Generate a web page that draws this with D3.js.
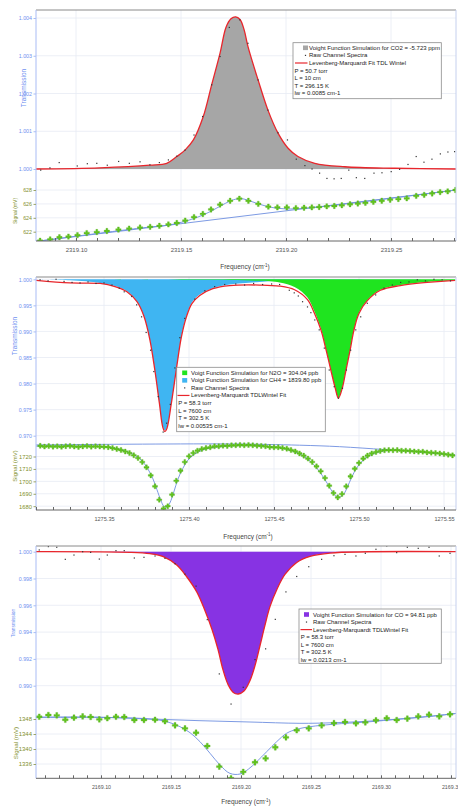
<!DOCTYPE html>
<html><head><meta charset="utf-8">
<script src="https://cdn.jsdelivr.net/npm/d3@7"></script>
<style>body{margin:0;background:#fff}svg{display:block;font-family:"Liberation Sans",Arial,sans-serif}</style>
</head><body>
<script>
// ---------------- DATA ----------------
// Panel 1 : CO2
const p1XTicks = [2319.10, 2319.15, 2319.20, 2319.25];
const p1TTicks = [1.000, 1.001, 1.002, 1.003, 1.004];
const p1STicks = [622, 624, 626, 628];
const p1SimFreq = [2319.0810,2319.1114,2319.1352,2319.1432,2319.1480,2319.1519,2319.1559,2319.1606,2319.1646,2319.1686,2319.1714,2319.1738,2319.1760,2319.1781,2319.1800,2319.1819,2319.1867,2319.1914,2319.1962,2319.2010,2319.2057,2319.2137,2319.2280,2319.2518,2319.2810];
const p1SimT = [1.00000,1.00003,1.00010,1.00015,1.00033,1.00050,1.00077,1.00139,1.00223,1.00307,1.00375,1.00398,1.00403,1.00396,1.00370,1.00324,1.00236,1.00156,1.00095,1.00055,1.00033,1.00015,1.00006,1.00002,1.00000];
const p1RawFreq = [2319.0832,2319.0876,2319.0920,2319.1006,2319.1054,2319.1099,2319.1149,2319.1203,2319.1254,2319.1305,2319.1352,2319.1397,2319.1440,2319.1480,2319.1519,2319.1562,2319.1603,2319.1646,2319.1686,2319.1730,2319.1780,2319.1819,2319.1867,2319.1914,2319.1962,2319.2007,2319.2049,2319.2090,2319.2124,2319.2160,2319.2195,2319.2229,2319.2263,2319.2299,2319.2335,2319.2375,2319.2419,2319.2457,2319.2501,2319.2541,2319.2581,2319.2620,2319.2657,2319.2695,2319.2735,2319.2771,2319.2803];
const p1RawT = [0.99997,1.00003,1.00017,1.00008,1.00014,1.00015,1.00010,1.00020,1.00015,1.00019,1.00011,1.00017,1.00024,1.00034,1.00050,1.00090,1.00139,1.00223,1.00298,1.00375,1.00395,1.00333,1.00236,1.00156,1.00096,1.00077,1.00026,1.00009,1.00000,0.99989,0.99975,0.99974,0.99975,0.99997,0.99977,0.99975,0.99989,0.99990,0.99993,0.99999,1.00012,1.00033,1.00018,1.00026,1.00040,1.00045,1.00046];
const p1SigFreq = [2319.0829,2319.0877,2319.0921,2319.0964,2319.1007,2319.1051,2319.1099,2319.1147,2319.1202,2319.1253,2319.1305,2319.1353,2319.1397,2319.1440,2319.1480,2319.1520,2319.1562,2319.1604,2319.1643,2319.1686,2319.1734,2319.1778,2319.1821,2319.1868,2319.1916,2319.1959,2319.2004,2319.2047,2319.2086,2319.2123,2319.2158,2319.2194,2319.2230,2319.2266,2319.2305,2319.2342,2319.2378,2319.2416,2319.2456,2319.2496,2319.2535,2319.2575,2319.2620,2319.2658,2319.2696,2319.2734,2319.2770,2319.2807];
const p1SigV = [620.7,620.9,621.2,621.3,621.5,621.8,621.95,622.1,622.3,622.45,622.6,622.7,622.85,623.05,623.25,623.6,624.1,624.55,625.2,625.9,626.45,626.75,626.45,626.0,625.6,625.5,625.5,625.4,625.45,625.5,625.55,625.65,625.7,625.8,625.95,626.05,626.15,626.3,626.45,626.6,626.7,626.8,627.15,627.3,627.5,627.7,627.8,628.0];
const p1SigFitFreq = [2319.0810,2319.1300,2319.1450,2319.1520,2319.1580,2319.1640,2319.1700,2319.1750,2319.1790,2319.1830,2319.1880,2319.1930,2319.1990,2319.2060,2319.2200,2319.2500,2319.2810];
const p1SigFitV = [620.6,622.5,623.0,623.5,624.1,624.9,625.9,626.6,626.75,626.4,625.9,625.5,625.3,625.3,625.7,626.8,628.0];
const p1BaseFreq = [2319.0810, 2319.2810];
const p1BaseV = [620.6, 628.0];
const p1Legend = ["Voight Function Simulation for CO2 = -5.723 ppm","Raw Channel Spectra","Levenberg-Marquardt Fit TDL Wintel","P = 50.7 torr","L = 10 cm","T = 296.15 K","lw = 0.0085 cm-1"];

// Panel 2 : N2O / CH4
const p2XTicks = [1275.35, 1275.40, 1275.45, 1275.50, 1275.55];
const p2TTicks = [1.000, 0.995, 0.990, 0.985, 0.980, 0.975, 0.970];
const p2STicks = [1680, 1690, 1700, 1710, 1720];
const p2Ch4Freq = [1275.3101,1275.3300,1275.3477,1275.3565,1275.3635,1275.3694,1275.3735,1275.3770,1275.3799,1275.3826,1275.3846,1275.3858,1275.3870,1275.3896,1275.3925,1275.3955,1275.3984,1275.4016,1275.4063,1275.4140,1275.4239,1275.4415,1275.4650,1275.4885,1275.5566];
const p2Ch4T = [1.0000,0.9998,0.9993,0.9987,0.9977,0.9958,0.9930,0.9884,0.9826,0.9762,0.9718,0.9710,0.9716,0.9762,0.9826,0.9890,0.9928,0.9955,0.9971,0.9983,0.9990,0.9995,0.9998,0.9999,1.0000];
const p2N2oFreq = [1275.3101,1275.4063,1275.4415,1275.4533,1275.4621,1275.4697,1275.4738,1275.4777,1275.4806,1275.4835,1275.4859,1275.4879,1275.4903,1275.4923,1275.4947,1275.4970,1275.4999,1275.5049,1275.5126,1275.5243,1275.5401,1275.5566];
const p2N2oT = [1.0000,0.9999,0.9997,0.9994,0.9985,0.9965,0.9938,0.9904,0.9866,0.9826,0.9794,0.9773,0.9794,0.9826,0.9864,0.9903,0.9935,0.9960,0.9980,0.9989,0.9995,0.9998];
const p2FitFreq = [1275.3101,1275.3300,1275.3477,1275.3565,1275.3635,1275.3694,1275.3735,1275.3770,1275.3799,1275.3826,1275.3846,1275.3858,1275.3870,1275.3896,1275.3925,1275.3955,1275.3984,1275.4016,1275.4063,1275.4140,1275.4239,1275.4415,1275.4533,1275.4621,1275.4697,1275.4738,1275.4777,1275.4806,1275.4835,1275.4859,1275.4879,1275.4903,1275.4923,1275.4947,1275.4970,1275.4999,1275.5049,1275.5126,1275.5243,1275.5401,1275.5566];
const p2FitT = [0.9998,0.9993,0.9992,0.9986,0.9976,0.9957,0.9929,0.9884,0.9826,0.9762,0.9716,0.9708,0.9714,0.9762,0.9826,0.9889,0.9927,0.9953,0.9969,0.9982,0.9988,0.9989,0.9987,0.9980,0.9961,0.9935,0.9902,0.9865,0.9825,0.9793,0.9772,0.9793,0.9825,0.9863,0.9902,0.9934,0.9959,0.9979,0.9988,0.9994,0.9998];
const p2RawFreq = [1275.3124,1275.3171,1275.3218,1275.3265,1275.3312,1275.3359,1275.3406,1275.3453,1275.3500,1275.3547,1275.3590,1275.3619,1275.3663,1275.3692,1275.3721,1275.3748,1275.3774,1275.3793,1275.3819,1275.3848,1275.3868,1275.3890,1275.3917,1275.3946,1275.3975,1275.4034,1275.4093,1275.4151,1275.4210,1275.4275,1275.4327,1275.4380,1275.4433,1275.4486,1275.4533,1275.4590,1275.4619,1275.4643,1275.4668,1275.4697,1275.4717,1275.4740,1275.4766,1275.4796,1275.4825,1275.4854,1275.4879,1275.4903,1275.4926,1275.4951,1275.4981,1275.5010,1275.5049,1275.5098,1275.5147,1275.5196,1275.5245,1275.5294,1275.5343,1275.5391,1275.5441,1275.5489,1275.5538];
const p2RawT = [0.9999,0.9997,1.0000,0.9996,0.9994,0.9993,0.9995,0.9992,0.9993,0.9989,0.9983,0.9976,0.9967,0.9951,0.9928,0.9898,0.9864,0.9823,0.9775,0.9707,0.9724,0.9760,0.9830,0.9888,0.9925,0.9962,0.9978,0.9986,0.9990,0.9991,0.9989,0.9992,0.9990,0.9991,0.9990,0.9979,0.9974,0.9968,0.9957,0.9947,0.9936,0.9922,0.9903,0.9868,0.9826,0.9794,0.9772,0.9791,0.9826,0.9864,0.9903,0.9928,0.9954,0.9970,0.9983,0.9989,0.9994,0.9995,0.9999,0.9997,1.0000,0.9999,0.9997];
const p2SigFreq = [1275.3125,1275.3150,1275.3175,1275.3200,1275.3225,1275.3250,1275.3275,1275.3300,1275.3325,1275.3350,1275.3375,1275.3400,1275.3425,1275.3450,1275.3475,1275.3500,1275.3525,1275.3550,1275.3575,1275.3600,1275.3625,1275.3650,1275.3675,1275.3700,1275.3725,1275.3750,1275.3775,1275.3800,1275.3825,1275.3850,1275.3875,1275.3900,1275.3925,1275.3950,1275.3975,1275.4000,1275.4025,1275.4050,1275.4075,1275.4100,1275.4125,1275.4150,1275.4175,1275.4200,1275.4225,1275.4250,1275.4275,1275.4300,1275.4325,1275.4350,1275.4375,1275.4400,1275.4425,1275.4450,1275.4475,1275.4500,1275.4525,1275.4550,1275.4575,1275.4600,1275.4625,1275.4650,1275.4675,1275.4700,1275.4725,1275.4750,1275.4775,1275.4800,1275.4825,1275.4850,1275.4875,1275.4900,1275.4925,1275.4950,1275.4975,1275.5000,1275.5025,1275.5050,1275.5075,1275.5100,1275.5125,1275.5150,1275.5175,1275.5200,1275.5225,1275.5250,1275.5275,1275.5300,1275.5325,1275.5350,1275.5375,1275.5400,1275.5425,1275.5450,1275.5475,1275.5500,1275.5525,1275.5550];
const p2SigV = [1728.6,1728.0,1728.4,1727.9,1728.2,1727.8,1728.3,1728.5,1728.0,1727.7,1728.1,1728.4,1727.9,1728.2,1728.0,
  1727.8,1727.5,1726.8,1726.0,1725.2,1724.0,1722.8,1721.0,1718.8,1715.6,1711.3,
  1704.8,1696.0,1685.2,1678.0,1680.0,1689.3,1700.5,1708.6,1715.6,1720.2,1722.8,1724.7,1726.0,1726.8,1727.4,
  1728.2,1728.2,1728.7,1728.5,1729.0,1729.0,1729.3,1729.0,1729.3,1729.0,1728.7,1728.5,1728.2,
  1727.6,1727.4,1727.4,1726.8,1726.3,1725.2,1724.1,1722.5,1720.7,1718.3,1715.6,1712.1,1708.1,1702.7,1696.5,1690.6,
  1687.1,1689.8,1696.0,1704.0,1710.2,1714.8,1718.3,1720.7,1722.5,1723.6,
  1724.4,1725.0,1725.2,1725.0,1725.2,1724.7,1724.7,1724.4,1724.1,1723.9,1723.9,1723.3,1723.1,1722.8,1722.5,1722.0,1721.5,1720.9];
const p2SigFitFreq = [1275.3101,1275.3477,1275.3553,1275.3623,1275.3682,1275.3723,1275.3758,1275.3788,1275.3811,1275.3835,1275.3852,1275.3870,1275.3887,1275.3911,1275.3934,1275.3964,1275.3993,1275.4034,1275.4093,1275.4181,1275.4298,1275.4445,1275.4533,1275.4592,1275.4638,1275.4680,1275.4715,1275.4750,1275.4785,1275.4815,1275.4844,1275.4868,1275.4885,1275.4909,1275.4932,1275.4956,1275.4985,1275.5020,1275.5061,1275.5120,1275.5208,1275.5354,1275.5566];
const p2SigFitV = [1728.3,1728.0,1727.0,1724.6,1721.0,1716.5,1710.0,1702.0,1693.5,1684.5,1680.0,1679.3,1682.5,1691.5,1701.5,1710.5,1717.0,1722.0,1725.8,1727.8,1728.8,1728.3,1727.0,1725.2,1722.8,1719.8,1716.0,1711.0,1704.5,1698.0,1691.5,1688.0,1687.3,1689.5,1695.5,1703.0,1710.5,1716.5,1720.8,1723.8,1725.1,1723.8,1721.0];
const p2BaseFreq = [1275.3101,1275.3653,1275.4239,1275.4650,1275.4885,1275.5149,1275.5354,1275.5566];
const p2BaseV = [1729.3,1729.9,1730.1,1729.1,1727.9,1725.6,1723.8,1721.0];
const p2Legend = ["Voigt Function Simulation for N2O = 304.04 ppb","Voigt Function Simulation for CH4 = 1839.80 ppb","Raw Channel Spectra","Levenberg-Marquardt TDLWintel Fit","P = 58.3 torr","L = 7600 cm","T = 302.5 K","lw = 0.00535 cm-1"];

// Panel 3 : CO
const p3XTicks = [2169.10, 2169.15, 2169.20, 2169.25, 2169.30, 2169.35];
const p3TTicks = [1.000, 0.998, 0.996, 0.994, 0.992, 0.990];
const p3STicks = [1336, 1340, 1344, 1348];
const p3SimFreq = [2169.0536,2169.1207,2169.1350,2169.1445,2169.1541,2169.1612,2169.1684,2169.1743,2169.1793,2169.1836,2169.1871,2169.1907,2169.1945,2169.1981,2169.2021,2169.2064,2169.2100,2169.2136,2169.2171,2169.2207,2169.2257,2169.2314,2169.2398,2169.2493,2169.2636,2169.3536];
const p3SimT = [1.0000,0.99995,0.99985,0.99963,0.99900,0.99813,0.99700,0.99560,0.99420,0.99270,0.99120,0.99010,0.98950,0.98938,0.98960,0.99038,0.99150,0.99300,0.99450,0.99590,0.99720,0.99830,0.99920,0.99965,0.99990,1.0000];
const p3Freq = [2169.0559,2169.0624,2169.0684,2169.0745,2169.0807,2169.0869,2169.0926,2169.0988,2169.1045,2169.1107,2169.1166,2169.1238,2169.1307,2169.1386,2169.1457,2169.1529,2169.1600,2169.1679,2169.1759,2169.1845,2169.1929,2169.2016,2169.2100,2169.2176,2169.2245,2169.2321,2169.2398,2169.2484,2169.2576,2169.2664,2169.2743,2169.2821,2169.2888,2169.2964,2169.3041,2169.3112,2169.3188,2169.3266,2169.3343,2169.3416,2169.3493];
const p3RawT = [1.00013,1.00038,1.00033,0.99943,0.99975,1.00000,0.99995,0.99945,0.99975,1.00008,1.00008,0.99953,0.99958,0.99968,0.99950,0.99910,0.99833,0.99743,0.99493,0.99088,0.98863,0.98988,0.99195,0.99275,0.99495,0.99700,0.99815,0.99888,0.99943,0.99970,0.99980,0.99968,0.99988,1.00018,1.00043,0.99993,1.00033,1.00025,1.00033,0.99968,0.99988];
const p3SigV = [1348.6,1349.07,1348.98,1347.8,1348.35,1348.7,1348.53,1347.9,1348.2,1348.6,1348.53,1347.73,1347.73,1347.8,1347.4,1346.3,1345.5,1344.35,1340.8,1335.3,1332.2,1333.9,1336.45,1337.5,1340.45,1343.1,1345.0,1345.5,1346.3,1346.9,1347.2,1346.85,1347.1,1347.65,1348.2,1347.73,1348.1,1348.7,1349.15,1348.7,1349.25];
const p3SigFitFreq = [2169.0534,2169.0993,2169.1350,2169.1469,2169.1564,2169.1636,2169.1707,2169.1779,2169.1850,2169.1921,2169.1993,2169.2052,2169.2112,2169.2184,2169.2255,2169.2326,2169.2398,2169.2493,2169.2659,2169.2898,2169.3136,2169.3374,2169.3541];
const p3SigFitV = [1348.45,1348.45,1348.0,1347.3,1345.95,1344.35,1341.95,1338.85,1335.73,1333.5,1333.33,1334.6,1336.6,1339.3,1341.95,1344.2,1345.25,1345.95,1346.6,1347.2,1348.0,1348.8,1349.5];
const p3BaseFreq = [2169.0534,2169.0993,2169.1350,2169.1707,2169.2064,2169.2421,2169.2659,2169.2898,2169.3136,2169.3374,2169.3541];
const p3BaseV = [1348.45,1348.45,1348.0,1347.55,1347.2,1346.85,1347.0,1347.4,1348.0,1348.8,1349.5];
const p3Legend = ["Voight Function Simulation for CO = 94.81 ppb","Raw Channel Spectra","Levenberg-Marquardt TDLWintel Fit","P = 58.3 torr","L = 7600 cm","T = 302.5 K","lw = 0.0213 cm-1"];

// ---------------- DRAWING ----------------
const W = 458, H = 806, L = 36, R = 456;
const svg = d3.select('body').append('svg').attr('width', W).attr('height', H);
const defs = svg.append('defs');
const zip = (a, b) => a.map((v, i) => [v, b[i]]);
const C = {
  grid: '#e7ebf4', axisBlue: '#a9bcf5', tickBlue: '#6f8ff0', olive: '#7f8f2c',
  red: '#e8262c', sigGreen: '#62c41f', fitBlue: '#6e8fe0', xlab: '#555'
};
const FF = 'Liberation Sans, Arial, sans-serif';

function drawPanel(p) {
  const x = d3.scaleLinear().domain(p.xA).range(p.xP);
  const yT = d3.scaleLinear().domain(p.tA).range(p.tP);
  const yS = d3.scaleLinear().domain(p.sA).range(p.sP);
  const g = svg.append('g');
  const cT = 'cT' + p.id, cS = 'cS' + p.id, cA = 'cA' + p.id;
  defs.append('clipPath').attr('id', cT).append('rect').attr('x', L).attr('y', p.top).attr('width', R - L).attr('height', p.mid - p.top);
  defs.append('clipPath').attr('id', cS).append('rect').attr('x', L).attr('y', p.mid).attr('width', R - L).attr('height', p.bot - p.mid);
  defs.append('clipPath').attr('id', cA).append('rect').attr('x', L).attr('y', p.top).attr('width', R - L).attr('height', p.bot - p.top);

  // grid
  const gg = g.append('g').attr('stroke', C.grid).attr('stroke-width', 0.8).attr('clip-path', `url(#${cA})`);
  gg.append('g').selectAll('line').data(p.xTicks).join('line').attr('x1', d => x(d)).attr('x2', d => x(d)).attr('y1', p.top).attr('y2', p.bot);
  gg.append('g').selectAll('line').data(p.tTicks).join('line').attr('x1', L).attr('x2', R).attr('y1', d => yT(d)).attr('y2', d => yT(d));
  gg.append('g').selectAll('line').data(p.sTicks).join('line').attr('x1', L).attr('x2', R).attr('y1', d => yS(d)).attr('y2', d => yS(d));

  // transmission plot
  const gt = g.append('g').attr('clip-path', `url(#${cT})`);
  const area = d3.area().x(d => x(d[0])).y0(yT(1)).y1(d => yT(d[1])).curve(d3.curveCatmullRom);
  const lineT = d3.line().x(d => x(d[0])).y(d => yT(d[1])).curve(d3.curveCatmullRom);
  p.fills.forEach(f => gt.append('path').attr('d', area(zip(f.freq, f.t))).attr('fill', f.color));
  gt.append('path').attr('d', lineT(zip(p.fitFreq, p.fitT))).attr('fill', 'none').attr('stroke', C.red).attr('stroke-width', 1.3);
  gt.append('g').selectAll('rect').data(zip(p.rawFreq, p.rawT)).join('rect')
    .attr('x', d => x(d[0]) - 0.6).attr('y', d => yT(d[1]) - 0.6).attr('width', 1.2).attr('height', 1.2).attr('fill', '#333');

  // signal plot
  const gs = g.append('g').attr('clip-path', `url(#${cS})`);
  const lineS = d3.line().x(d => x(d[0])).y(d => yS(d[1])).curve(d3.curveCatmullRom);
  gs.append('path').attr('d', lineS(zip(p.baseFreq, p.baseV))).attr('fill', 'none').attr('stroke', C.fitBlue).attr('stroke-width', 0.9);
  gs.append('path').attr('d', lineS(zip(p.sfitFreq, p.sfitV))).attr('fill', 'none').attr('stroke', C.fitBlue).attr('stroke-width', 0.9);
  gs.append('g').selectAll('path').data(zip(p.sigFreq, p.sigV)).join('path')
    .attr('d', d3.symbol().type(d3.symbolCross).size(p.mSize))
    .attr('transform', d => `translate(${x(d[0])},${yS(d[1])})`)
    .attr('fill', C.sigGreen).attr('stroke', '#4aa914').attr('stroke-width', 0.3);

  // frame
  g.append('line').attr('x1', L).attr('x2', R).attr('y1', p.top).attr('y2', p.top).attr('stroke', '#8a8a8a').attr('stroke-width', 1);
  g.append('line').attr('x1', R).attr('x2', R).attr('y1', p.top).attr('y2', p.bot).attr('stroke', '#c5d0ee').attr('stroke-width', 1);
  g.append('line').attr('x1', L).attr('x2', L).attr('y1', p.top).attr('y2', p.bot).attr('stroke', C.axisBlue).attr('stroke-width', 1);

  // y axes
  const ay = g.append('g').attr('transform', `translate(${L},0)`)
    .call(d3.axisLeft(yT).tickValues(p.tTicks).tickFormat(d3.format('.3f')).tickSize(2.5).tickPadding(1.5));
  ay.select('.domain').remove();
  ay.selectAll('line').attr('stroke', C.axisBlue);
  ay.selectAll('text').attr('fill', C.tickBlue).attr('font-size', p.tFont).attr('font-family', FF);
  const as = g.append('g').attr('transform', `translate(${L},0)`)
    .call(d3.axisLeft(yS).tickValues(p.sTicks).tickFormat(d3.format('d')).tickSize(2.5).tickPadding(1.5));
  as.select('.domain').remove();
  as.selectAll('line').attr('stroke', '#9aa46a');
  as.selectAll('text').attr('fill', C.olive).attr('font-size', p.sFont).attr('font-family', FF);

  // x axis
  const vis = [x.invert(L), x.invert(R)];
  const minor = d3.ticks(vis[0], vis[1], p.nMinor);
  const ax = g.append('g').attr('transform', `translate(0,${p.bot})`)
    .call(d3.axisBottom(x).tickValues(minor).tickSize(-3).tickFormat(''));
  ax.select('.domain').attr('d', `M${L},0H${R}`).attr('stroke', '#666');
  ax.selectAll('line').attr('stroke', '#666');
  const axl = g.append('g').attr('transform', `translate(0,${p.bot})`)
    .call(d3.axisBottom(x).tickValues(p.xTicks).tickSize(0).tickPadding(7).tickFormat(d3.format('.2f')));
  axl.select('.domain').remove();
  axl.selectAll('text').attr('fill', C.xlab).attr('font-size', p.xFont).attr('font-family', FF);

  // axis titles
  g.append('text').attr('transform', `translate(${p.tTitle[0]},${p.tTitle[1]}) rotate(-90)`)
    .attr('text-anchor', 'middle').attr('dominant-baseline', 'central').attr('fill', C.tickBlue)
    .attr('font-size', p.tTitle[2]).text('Transmission');
  g.append('text').attr('transform', `translate(${p.sTitle[0]},${p.sTitle[1]}) rotate(-90)`)
    .attr('text-anchor', 'middle').attr('dominant-baseline', 'central').attr('fill', C.olive)
    .attr('font-size', p.sTitle[2]).text('Signal (mV)');
  const ft = g.append('text').attr('x', p.fTitle[0]).attr('y', p.fTitle[1]).attr('text-anchor', 'middle')
    .attr('fill', '#444').attr('font-size', 6.5);
  ft.append('tspan').text('Frequency (cm');
  ft.append('tspan').attr('dy', -2.5).attr('font-size', 4.5).text('-1');
  ft.append('tspan').attr('dy', 2.5).text(')');

  // legend
  const lg = p.leg;
  const gl = g.append('g');
  gl.append('rect').attr('x', lg.x).attr('y', lg.y).attr('width', lg.w).attr('height', lg.h)
    .attr('fill', '#fff').attr('stroke', '#8c8c8c').attr('stroke-width', 0.8);
  lg.items.forEach((it, i) => {
    const cy = lg.y0 + i * lg.dy;
    if (it.kind === 'sq') gl.append('rect').attr('x', lg.mx - 2.5).attr('y', cy - 2.3).attr('width', 5).attr('height', 4.6).attr('fill', it.color);
    if (it.kind === 'dot') gl.append('rect').attr('x', lg.mx - 0.6).attr('y', cy - 0.6).attr('width', 1.2).attr('height', 1.2).attr('fill', '#333');
    if (it.kind === 'line') gl.append('line').attr('x1', lg.lx[0]).attr('x2', lg.lx[1]).attr('y1', cy).attr('y2', cy).attr('stroke', C.red).attr('stroke-width', 1.2);
    gl.append('text').attr('x', it.kind === 'txt' ? lg.px : lg.tx).attr('y', cy).attr('dominant-baseline', 'central')
      .attr('fill', '#222').attr('font-size', 6).text(it.text);
  });
}

// Panel 1
drawPanel({
  id: 1, top: 10, mid: 182, bot: 241,
  xA: [2319.10, 2319.25], xP: [76, 391], tA: [1.000, 1.004], tP: [169, 18], sA: [622, 628], sP: [231.7, 190],
  xTicks: p1XTicks, tTicks: p1TTicks, sTicks: p1STicks, nMinor: 20,
  fills: [{ freq: p1SimFreq, t: p1SimT, color: '#a6a6a6' }],
  fitFreq: p1SimFreq, fitT: p1SimT, rawFreq: p1RawFreq, rawT: p1RawT,
  sigFreq: p1SigFreq, sigV: p1SigV, sfitFreq: p1SigFitFreq, sfitV: p1SigFitV, baseFreq: p1BaseFreq, baseV: p1BaseV,
  mSize: 16, tFont: 5.3, sFont: 5.3, xFont: 6,
  tTitle: [23, 88, 6.5], sTitle: [15, 211, 5], fTitle: [245, 269],
  leg: { x: 293, y: 42.7, w: 148.3, h: 56, y0: 47.8, dy: 7.6, mx: 305.5, tx: 309, px: 294.5, lx: [295, 307.5],
    items: [{ kind: 'sq', color: '#a6a6a6', text: p1Legend[0] }, { kind: 'dot', text: p1Legend[1] }, { kind: 'line', text: p1Legend[2] },
      { kind: 'txt', text: p1Legend[3] }, { kind: 'txt', text: p1Legend[4] }, { kind: 'txt', text: p1Legend[5] }, { kind: 'txt', text: p1Legend[6] }] }
});

// Panel 2
drawPanel({
  id: 2, top: 277, mid: 441, bot: 510,
  xA: [1275.35, 1275.55], xP: [104, 444], tA: [1.000, 0.970], tP: [279.3, 435.7], sA: [1680, 1720], sP: [506.2, 456.5],
  xTicks: p2XTicks, tTicks: p2TTicks, sTicks: p2STicks, nMinor: 25,
  fills: [{ freq: p2Ch4Freq, t: p2Ch4T, color: '#3fb5f2' }, { freq: p2N2oFreq, t: p2N2oT, color: '#1fe41f' }],
  fitFreq: p2FitFreq, fitT: p2FitT, rawFreq: p2RawFreq, rawT: p2RawT,
  sigFreq: p2SigFreq, sigV: p2SigV, sfitFreq: p2SigFitFreq, sfitV: p2SigFitV, baseFreq: p2BaseFreq, baseV: p2BaseV,
  mSize: 14, tFont: 5.3, sFont: 5.8, xFont: 5.6,
  tTitle: [14, 336, 6.5], sTitle: [15, 466, 6], fTitle: [248, 538.5],
  leg: { x: 176.7, y: 367.3, w: 148.6, h: 64.4, y0: 372.8, dy: 7.55, mx: 184.7, tx: 191, px: 178.3, lx: [177.5, 189.5],
    items: [{ kind: 'sq', color: '#1fe41f', text: p2Legend[0] }, { kind: 'sq', color: '#3fb5f2', text: p2Legend[1] }, { kind: 'dot', text: p2Legend[2] },
      { kind: 'line', text: p2Legend[3] }, { kind: 'txt', text: p2Legend[4] }, { kind: 'txt', text: p2Legend[5] }, { kind: 'txt', text: p2Legend[6] }, { kind: 'txt', text: p2Legend[7] }] }
});

// Panel 3
drawPanel({
  id: 3, top: 546, mid: 706, bot: 778.3,
  xA: [2169.10, 2169.30], xP: [101, 381], tA: [1.000, 0.990], tP: [551.7, 685.7], sA: [1336, 1348], sP: [764, 719],
  xTicks: p3XTicks, tTicks: p3TTicks, sTicks: p3STicks, nMinor: 30,
  fills: [{ freq: p3SimFreq, t: p3SimT, color: '#8733e3' }],
  fitFreq: p3SimFreq, fitT: p3SimT, rawFreq: p3Freq, rawT: p3RawT,
  sigFreq: p3Freq, sigV: p3SigV, sfitFreq: p3SigFitFreq, sfitV: p3SigFitV, baseFreq: p3BaseFreq, baseV: p3BaseV,
  mSize: 18, tFont: 5.3, sFont: 6, xFont: 5.3,
  tTitle: [13.5, 623, 4.8], sTitle: [15, 743, 6.2], fTitle: [246, 804],
  leg: { x: 299, y: 609, w: 142.3, h: 54.3, y0: 614.5, dy: 7.55, mx: 306.5, tx: 313, px: 300.7, lx: [300.5, 312],
    items: [{ kind: 'sq', color: '#8733e3', text: p3Legend[0] }, { kind: 'dot', text: p3Legend[1] }, { kind: 'line', text: p3Legend[2] },
      { kind: 'txt', text: p3Legend[3] }, { kind: 'txt', text: p3Legend[4] }, { kind: 'txt', text: p3Legend[5] }, { kind: 'txt', text: p3Legend[6] }] }
});
</script>
</body></html>
